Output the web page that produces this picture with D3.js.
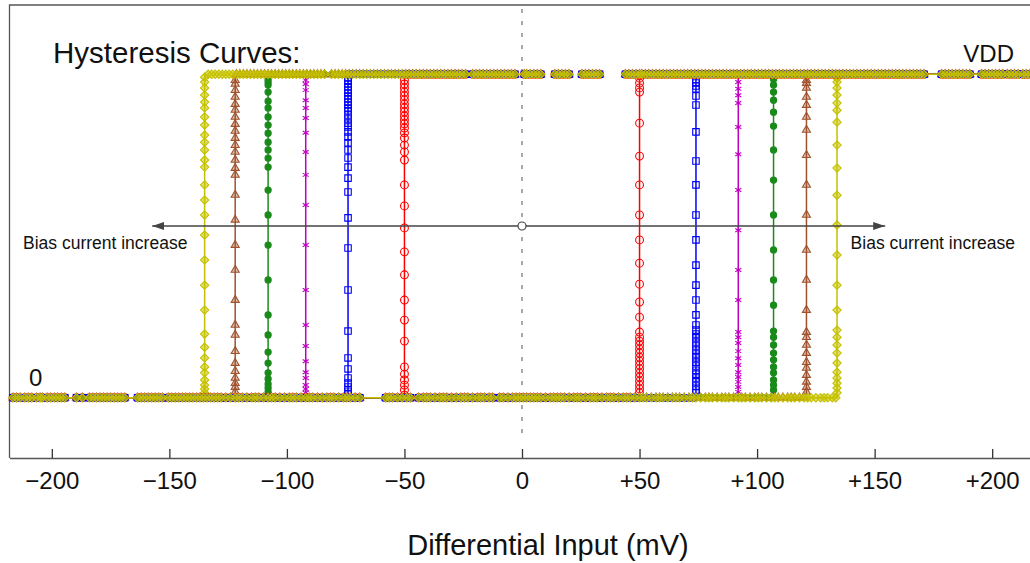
<!DOCTYPE html>
<html>
<head>
<meta charset="utf-8">
<script src="https://cdnjs.cloudflare.com/ajax/libs/d3/7.8.5/d3.min.js"></script>
<style>
  body { margin: 0; background: #fff; }
  text { font-family: "Liberation Sans", Arial, sans-serif; fill: #111; }
</style>
</head>
<body>
<div id="chart"></div>
<script>

////// Data //////

// comparator output, normalised: 0 = ground, 1 = VDD
var seriesNames = ["I1", "I2", "I3", "I4", "I5", "I6"];
var lowThresh  = [-50, -74, -92, -108, -122, -135];   // mV, falling edge
var highThresh = [50, 74, 92, 107, 121, 134];         // mV, rising edge

var fallLevels = [
  [.982,.970,.958,.945,.933,.921,.908,.896,.884,.871,.859,.847,.834,.819,.803,.781,.760,.735,.658,.593,.525,.451,.380,.302,.240,.175,.095,.073,.055,.039,.024,.008],
  [.989,.979,.970,.961,.951,.942,.933,.924,.914,.905,.896,.887,.874,.862,.849,.837,.822,.806,.788,.766,.741,.713,.679,.636,.556,.463,.333,.206,.123,.089,.061,.045,.033,.020,.011],
  [.982,.970,.951,.920,.896,.865,.819,.760,.689,.596,.472,.333,.225,.160,.113,.079,.061,.039,.027,.015],
  [.985,.976,.967,.945,.917,.896,.868,.843,.818,.790,.766,.741,.713,.642,.565,.472,.364,.256,.194,.141,.107,.077,.058,.042,.030,.018],
  [.982,.970,.951,.930,.908,.890,.868,.846,.825,.803,.781,.760,.735,.710,.689,.627,.550,.472,.395,.302,.225,.194,.144,.107,.082,.061,.045,.033,.018],
  [.991,.976,.958,.936,.914,.896,.868,.843,.812,.790,.766,.735,.713,.658,.611,.565,.503,.426,.348,.271,.197,.156,.123,.095,.077,.055,.039,.027,.015]
];

var riseLevels = [
  [.015,.027,.039,.051,.064,.076,.089,.101,.113,.125,.138,.150,.163,.175,.187,.203,.249,.296,.351,.416,.488,.565,.658,.747,.849,.945,.958,.973,.988],
  [.015,.024,.036,.049,.061,.073,.085,.098,.110,.123,.135,.147,.160,.172,.185,.197,.209,.225,.256,.302,.348,.410,.488,.565,.658,.732,.822,.905,.933,.955,.964,.973,.983],
  [.018,.033,.049,.064,.079,.101,.122,.144,.169,.187,.203,.302,.395,.518,.642,.753,.837,.911,.935,.955,.976],
  [.024,.039,.055,.077,.095,.117,.138,.163,.187,.206,.286,.364,.457,.565,.673,.766,.840,.883,.920,.945,.967,.985],
  [.018,.033,.049,.070,.092,.110,.138,.163,.187,.203,.271,.364,.457,.565,.658,.750,.828,.868,.905,.930,.958,.973,.982],
  [.015,.030,.045,.061,.079,.107,.138,.163,.187,.209,.271,.348,.441,.534,.626,.710,.781,.852,.889,.911,.936,.958,.976,.988]
];

// input samples (mV) along the low rail (up sweep) and high rail (down sweep)
var lowSweepX = [-216.5,-215,-213.5,-211.5,-210,-208.5,-206.5,-205,-204,-202,-200.5,-199,-197.5,-196,-194.5,-189.5,-187,
  -184,-182.5,-181,-179.5,-178,-176.5,-175,-173.5,-172,-170.5,-169,-163.5,-162,-160.5,-159,-157.5,-156,-154.5,-153,
  -150.5,-149,-147.5,-146,-144.5,-143,-141.5,-140,-138.5,-137,-135.5,-134,-132.5,-131,-129.5,-128,-126,-124,-122,-120.5,
  -119,-117,-115,-113.5,-112,-110,-108,-106.5,-105,-103,-101,-99,-97.5,-96,-94,-92,-90.5,-89,-87,-85,-83,-81.5,-80,-78,
  -76,-74.5,-73,-71,-69,-58,-56.5,-55,-53,-51,-49,-47.5,-44,-42,-40.5,-39,-37,-35,-33.5,-32,-30,-28,-26,-24.5,-23,-21,
  -19,-17.5,-16,-14,-12.5,-9.5,-8,-6,-4,-2.5,-1,0.5,2,3.5,5,6.5,8,10,12,13.5,15,16.5,18,20,22,23.5,25,27,29,30.5,32,34,
  36,37.5,39,41,43,44.5,46,48,50,51.5,53,55,57,58.5,60,62,64,65.5,67,69,71,72.5,74,76,78,79.5,81,83,85,86.5,88,90,92,
  93.5,95,97,99,100.5,102,104,106,107.5,109,111,113,114.5,116,118,120,121.5,123,125,127,128.5,130,132,133.5];

var highSweepX = [216,214.5,213,211,209.5,208,206.5,204.5,203,201.5,200,198.5,197,195.5,190.5,189,187.5,186,184.5,183,
  181.5,180,178.5,171,169.5,168,166.5,165,163.5,162,160.5,159,157.5,156,154.5,153,151.5,150,148.5,147,145.5,144,142.5,
  141,139.5,138,136.5,135,133.5,132,130.5,129,127.5,126,124.5,123,121.5,120,118.5,117,115.5,114,112.5,111,109.5,108,
  106.5,105,103.5,102,100.5,99,97.5,96,94.5,93,91.5,90,88.5,87,85.5,84,82.5,81,79.5,78,76.5,75,73.5,72,70.5,69,67.5,66,
  64.5,63,61.5,60,58.5,57,55.5,54,52.5,51,50,48.5,47,45.5,44,33,31.5,30,28.5,27,25.5,20,18.5,17,15.5,14,8,6.5,5,3.5,2,
  1,-3,-4.5,-6,-7.5,-9,-10.5,-12,-13.5,-15,-16.5,-18,-19.5,-21,-24,-25.5,-27,-28.5,-30,-31.5,-33,-34.5,-36,-37.5,-39,
  -40.5,-42,-43.5,-45,-46.5,-48,-49.5,-51,-52.5,-54,-55.5,-57,-58.5,-60,-61.5,-63,-64.5,-66,-67.5,-69,-70.5,-72,-73.5,
  -75,-76.5,-78,-79.5,-81,-84,-85.5,-87,-88.5,-90,-91.5,-93,-94.5,-96,-97.5,-99,-100.5,-102,-103.5,-105,-106.5,-108,
  -109.5,-111,-112.5,-114,-115.5,-117,-118.5,-120,-121.5,-123,-124.5,-126,-127.5,-129,-130.5,-132,-133.5,-135];

var xTicks = [-200, -150, -100, -50, 0, 50, 100, 150, 200];

////// Styles //////

var colors  = ["#ff0000", "#0000ff", "#c000c0", "#1a8a1a", "#a0522d", "#c4c000"];
var fills   = ["none", "none", "none", "#1a8a1a", "rgba(160,82,45,0.35)", "rgba(200,196,0,0.55)"];
var symbols = [d3.symbolCircle, d3.symbolSquare, d3.symbolAsterisk || d3.symbolCross,
               d3.symbolCircle, d3.symbolTriangle, d3.symbolDiamond2 || d3.symbolDiamond];
var sizes   = [48, 42, 34, 30, 28, 44];
var railOrder = [0, 2, 3, 4, 1, 5];   // blue just under yellow on the rails

////// SVG container //////

var W = 1030, H = 563;
var svg = d3.select("#chart").append("svg")
  .attr("width", W).attr("height", H);

var x = d3.scaleLinear().domain([-218, 218]).range([9.5, 1034.5]);
var y = d3.scaleLinear().domain([0, 1]).range([397.7, 74.3]);

var axisY = 458, topY = 5;

// frame
svg.append("path")
  .attr("d", "M9.5," + axisY + "V" + topY + "H" + W)
  .attr("fill", "none").attr("stroke", "#555").attr("stroke-width", 1.3);

// dashed zero line
svg.append("line")
  .attr("x1", x(0)).attr("x2", x(0))
  .attr("y1", 9).attr("y2", 433)
  .attr("stroke", "#aaa").attr("stroke-width", 2)
  .attr("stroke-dasharray", "4,8");

////// Curves //////

var line = d3.line().x(function(d) { return x(d[0]); }).y(function(d) { return y(d[1]); });

function drawMarks(g, i, pts) {
  var sym = d3.symbol().type(symbols[i]).size(sizes[i]);
  g.selectAll(null).data(pts).enter().append("path")
    .attr("d", sym)
    .attr("transform", function(d) { return "translate(" + x(d[0]) + "," + y(d[1]) + ")"; })
    .attr("fill", fills[i])
    .attr("stroke", colors[i])
    .attr("stroke-width", 1.1);
}

var curves = svg.append("g");
seriesNames.forEach(function(name, i) {
  var lo = lowThresh[i], hi = highThresh[i];
  var g = curves.append("g").attr("class", "series " + name);

  // up sweep: low rail -> rising edge -> high rail
  var up = [[-218, 0], [hi, 0]]
    .concat(riseLevels[i].map(function(v) { return [hi, v]; }))
    .concat([[hi, 1], [218, 1]]);
  // down sweep: falling edge -> low rail
  var down = [[lo, 1]]
    .concat(fallLevels[i].map(function(v) { return [lo, v]; }))
    .concat([[lo, 0], [-218, 0]]);

  [up, down].forEach(function(pts) {
    g.append("path").attr("d", line(pts))
      .attr("fill", "none").attr("stroke", colors[i])
      .attr("stroke-width", 1.5);
  });

  drawMarks(g, i, riseLevels[i].map(function(v) { return [hi, v]; })
    .concat(fallLevels[i].map(function(v) { return [lo, v]; })));
});

var rails = svg.append("g");
railOrder.forEach(function(i) {
  var lo = lowThresh[i], hi = highThresh[i];
  var g = rails.append("g");
  var pts = lowSweepX.filter(function(v) { return v < hi; }).map(function(v) { return [v, 0]; })
    .concat(highSweepX.filter(function(v) { return v > lo; }).map(function(v) { return [v, 1]; }));
  drawMarks(g, i, pts);
});

////// Axis //////

var xAxis = d3.axisBottom(x)
  .tickValues(xTicks)
  .tickSizeInner(-9)
  .tickSizeOuter(0)
  .tickPadding(14)
  .tickFormat(function(d) { return d === 0 ? "0" : (d < 0 ? "\u2212" + Math.abs(d) : "+" + d); });

var ax = svg.append("g").attr("transform", "translate(0," + axisY + ")").call(xAxis);
ax.select(".domain").attr("stroke", "#555").attr("stroke-width", 1.3);
ax.selectAll(".tick line").attr("stroke", "#333").attr("stroke-width", 1.3);
ax.selectAll(".tick text")
  .style("font-family", "'Liberation Sans', Arial, sans-serif")
  .style("font-size", "24px").attr("fill", "#111");

svg.append("text")
  .attr("x", 548).attr("y", 555)
  .attr("text-anchor", "middle")
  .style("font-size", "29px")
  .text("Differential Input (mV)");

////// Annotations //////

svg.append("text").attr("x", 53).attr("y", 63).style("font-size", "29.5px").text("Hysteresis Curves:");
svg.append("text").attr("x", 1014).attr("y", 62).attr("text-anchor", "end").style("font-size", "24px").text("VDD");
svg.append("text").attr("x", 29).attr("y", 386).style("font-size", "24px").text("0");

var defs = svg.append("defs");
defs.append("marker")
  .attr("id", "arrowhead")
  .attr("viewBox", "0 0 12 8").attr("refX", 12).attr("refY", 4)
  .attr("markerWidth", 12).attr("markerHeight", 8)
  .attr("markerUnits", "userSpaceOnUse")
  .attr("orient", "auto-start-reverse")
  .append("path").attr("d", "M0,0L12,4L0,8Z").attr("fill", "#444");

var arrowY = 226;
svg.append("line")
  .attr("x1", x(-157.3)).attr("x2", x(154.5))
  .attr("y1", arrowY).attr("y2", arrowY)
  .attr("stroke", "#444").attr("stroke-width", 1.3)
  .attr("marker-start", "url(#arrowhead)")
  .attr("marker-end", "url(#arrowhead)");

svg.append("circle")
  .attr("cx", x(0)).attr("cy", arrowY).attr("r", 4)
  .attr("fill", "#fff").attr("stroke", "#444").attr("stroke-width", 1.2);

svg.append("text").attr("x", 23).attr("y", 249).style("font-size", "17.5px").text("Bias current increase");
svg.append("text").attr("x", 1015).attr("y", 249).attr("text-anchor", "end").style("font-size", "17.5px").text("Bias current increase");

</script>
</body>
</html>
